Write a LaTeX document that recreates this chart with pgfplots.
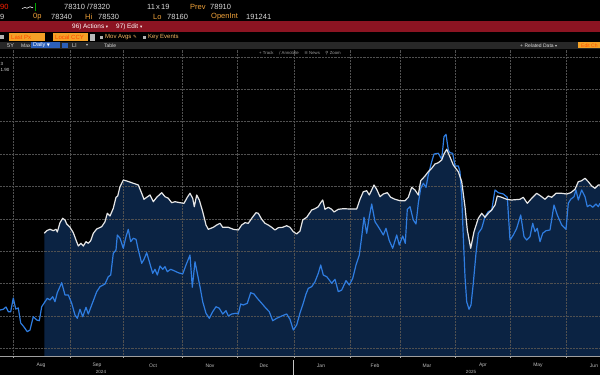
\documentclass[border=0pt]{standalone}
\usepackage{fontspec}
\setmainfont{Liberation Sans}
\newfontfamily\sym{DejaVu Sans}
\usepackage{pgfplots}
\usepackage{pgfplotstable}
\pgfplotsset{compat=1.18}
\definecolor{navy}{HTML}{0B2343}
\definecolor{bbblue}{HTML}{2F7DE1}
\definecolor{bbwhite}{HTML}{E6E6E6}
\definecolor{bbgrid}{HTML}{505050}
\definecolor{bbamber}{HTML}{F2A33A}
\definecolor{bbred}{HTML}{8C1422}
\definecolor{bbgray}{HTML}{272727}
\definecolor{bbtext}{HTML}{DADADA}
\definecolor{bborange}{HTML}{F4A127}
\definecolor{bbdaily}{HTML}{2C5FB8}
\definecolor{bblabel}{HTML}{BDBDBD}

\pgfplotstableread{
x y
44.3 141.7
46.7 144.3
50 145.7
53.3 144.3
56 145.7
57.3 143
60 152.3
62.7 156.7
65 155
66.7 151
70 147.7
73.3 142.3
76 135
78.3 129
81 131.7
83.3 129
86 133.3
88.3 131.7
90.7 134.3
93.3 141.7
96.7 146
101.7 148.3
105 153.3
107.3 161.7
110 159
113.3 166.7
116 177.7
117.7 179
120 188.3
123.3 195
126.7 194
131.7 192.3
138.3 190
141.7 181.7
144 175.7
146.7 177.7
150 180
153.3 173.3
156.7 177.7
161.7 182.3
165 178.3
168.3 176.7
171.7 172.3
175 173.3
180 172.3
184 171.7
187.3 177.7
190 181.7
192.7 176.7
194.3 168.3
196.7 180
199.3 175
202.7 163.3
206 150
208.3 145.7
213.3 147.7
216.7 150
220 151.7
222.7 147.7
228.3 147.7
233.3 145.7
238.3 145
241.7 150
245 152.3
248.3 151.7
251.7 156.7
256 162.3
258.3 161.7
261.7 155.7
265 151.7
268.3 150
271.7 147.7
275 145
278.3 147.3
282.7 147.7
286.7 149.3
290 147.7
293.3 143.3
296.7 141
300 144
302.7 155
306.7 157.7
311.7 165
315 166.3
318.3 168.3
320.7 172.3
322.7 175
325 165.7
328.3 167.7
331.7 165.7
334 163
338.3 165.7
343.3 166.3
350 166
356.7 166
360 175.7
363.3 183.3
366.7 184.3
369.3 180
371.7 185
374 190
376.7 185.7
380 178.3
383.3 181
387.3 182.3
390.7 177.7
395 175.7
400 174.3
405 174.3
408.3 177.7
411.7 187.7
415 185
418.3 180
420.7 194.3
425 199
428.3 203.3
431.7 206.7
435 211
438.3 212.3
441.7 215
444 221
446.7 225.7
450 218
453.3 210
458.3 203.3
461.7 193.3
465 168.3
467.3 145
470.7 126.7
474 143.3
478.3 156.7
481.7 161.7
485 157.7
488.3 161.7
491.7 165
495 170
497.3 179
501.7 177.7
506.7 175.7
511.7 175
520 175.7
523.3 177.7
527.3 171.7
531.7 176.7
536.7 181.7
540.7 179
545 175.7
548.3 179
551.7 177.7
556 181.7
561.7 181.7
566.7 181
570.7 182.3
575 185.7
578.3 193.3
581.7 194.3
585 196.7
588.3 193.3
591.7 189
595 186.7
598.3 190
600 190
}\whitedata

\pgfplotstableread{
x y
0 65
3.3 65.7
6 68
8.3 63.3
10.7 63.3
13.3 77
15.7 66
18.3 67
20.7 52
24 48
27.3 43.3
30 45
33.3 58.3
36.7 55
39.3 54.3
41.7 68.3
45 73.3
47.3 76.7
50 75
52.7 78.3
55 73.3
57.3 82.3
61.7 92.3
65 80
68.3 80
71.7 71.7
75 60
77.3 56.7
80 65.7
82.7 58.3
86 67.7
88.3 61
91.7 70
96.7 83.3
100 88.3
105 91
108.3 98.3
110.7 100
113.3 121.7
116 125
117.3 140
120 136.7
123.3 126.7
126 138.3
128.3 145.7
130.7 133.3
133.3 136.7
136 135.7
138.3 125
141.7 111.7
144 115.7
146.7 122.3
150 111
152.7 101.7
155 105.7
157.3 100
160 109
162.7 105.7
165 108.3
167.3 103.3
170.7 105.7
174 104.3
178.3 102.3
182.7 101
186 110
190 120
192.3 87.7
195 113.3
197.3 101.7
200 88.3
202.7 73.3
206 61.7
209.3 56.7
212.7 63.3
216 68.3
219.3 66.7
222.7 61
226 64.3
228.3 59
231.7 61
236 61.7
238.3 61
240.7 71
243.3 70
247.3 71.7
250.7 82.3
254 81
257.3 76.7
261.7 71.7
266 66.7
269.3 63.3
272.7 54.3
276.7 56.7
281.7 59
286.7 61
290 55.7
293.3 45
296.7 50
300 62
302.7 70
306 81
308.3 86.7
311.7 88.3
315 93.3
318.3 101.7
320.7 110
323.3 100
326.7 98.3
329.3 95
331.7 91.7
335 95.7
338.3 83.3
341.7 85
346 94.3
349.3 90
352.7 96.7
356 110
359.3 120
361.7 138.3
364 157.7
366.7 141.7
369.3 158.3
371.7 171
375 153.3
379.3 146.7
383.3 140
386 146.7
389.3 134.3
392.7 126.7
396.7 140
399.3 130
402.7 139
405.3 131.7
407.3 165.7
410 168.3
413.3 155
416 151
418.3 171.7
420.7 186.7
423.3 191.7
426 187.7
428.3 200
431.7 213.3
434 221
438.3 221.7
441.7 215.7
444 238.3
446 240.7
448.3 225
450 222.3
452.7 221.7
455 209
458.3 209
460 203.3
461.7 178.3
463.3 138.3
465 98.3
466.7 73.3
469 65.7
471 70
473.3 91.7
476 121.7
478.3 141.7
481.7 146.7
485 158.3
488.3 163.3
491.7 165
495 185
498.3 182.3
503.3 181
507.3 177.7
510 135
513.3 140
516.7 146.7
520.7 160
524 138.3
526.7 135
530 138.3
532.7 151.7
535 143.3
537.3 146.7
540 133.3
542.7 141.7
546 144.3
550 145
554 170
557.3 160
561.7 150
566 145.7
568.3 171.7
570.7 175.7
574 178.3
576 185
578.3 175
581.7 185
585 178.3
587.3 168.3
590 170
592.7 167.7
596 171
598.3 168.3
600 171.7
}\bluedata

\begin{document}
\begin{tikzpicture}[x=1pt,y=1pt]
\fill[black] (0,0) rectangle (600,375);
% ---- header ----
\fill[bbred] (0,343) rectangle (600,354);
\fill[bbgray] (0,326) rectangle (600,333);
\begin{scope}[every node/.style={inner sep=0pt, anchor=west, font=\fontsize{7.5}{8}\selectfont}]
% row 1
\node[text=red!75!orange] at (0,368) {90};
\draw[white, line width=0.6pt] (22,366.5) -- (25,367.5) -- (27,366.8) -- (30,368.2) -- (33,367.2);
\draw[green!65!black, line width=1pt] (35.5,364) -- (35.5,372);
\node[text=bbtext] at (64,368) {78310 /78320};
\node[text=bbtext] at (147,368) {11\,x\,19};
\node[text=bbamber] at (190,368) {Prev};
\node[text=bbtext] at (210,368) {78910};
% row 2
\node[text=bbtext] at (0,358) {9};
\node[text=bbamber] at (33,358) {0p};
\node[text=bbtext] at (51,358) {78340};
\node[text=bbamber] at (85,358) {Hi};
\node[text=bbtext] at (98,358) {78530};
\node[text=bbamber] at (153,358) {Lo};
\node[text=bbtext] at (167,358) {78160};
\node[text=bbamber] at (211,358) {OpenInt};
\node[text=bbtext] at (246,358) {191241};
% red bar
\node[text=white, font=\fontsize{6.4}{7}\selectfont] at (72,348.5) {96) Actions {\sym\fontsize{4.5}{5}\selectfont ▾}};
\node[text=white, font=\fontsize{6.4}{7}\selectfont] at (116,348.5) {97) Edit {\sym\fontsize{4.5}{5}\selectfont ▾}};
% row 4
\fill[gray!60] (0,335.5) rectangle (4,339.5);
\fill[bborange] (9,333.5) rectangle (45,341.5);
\node[text=orange!55!red, font=\fontsize{6}{7}\selectfont] at (11,337.5) {Last Px};
\fill[bborange] (53,333.5) rectangle (88,341.5);
\node[text=orange!55!red, font=\fontsize{6}{7}\selectfont] at (55,337.5) {Local CCY};
\fill[gray!55] (90,334) rectangle (95,341);
\fill[gray!60] (100,335.5) rectangle (103,338.5);
\node[text=bbamber!80!white, font=\fontsize{6}{7}\selectfont] at (105,337.5) {Mov Avgs {\sym\fontsize{4.5}{5}\selectfont ✎}};
\fill[gray!60] (143,335.5) rectangle (146,338.5);
\node[text=bbamber!80!white, font=\fontsize{6}{7}\selectfont] at (148,337.5) {Key Events};
% row 5
\node[text=bbtext, font=\fontsize{5.5}{6}\selectfont] at (7,329.5) {5Y};
\node[text=bbtext, font=\fontsize{5}{6}\selectfont] at (21,329.5) {Max};
\fill[bbdaily] (31,326.5) rectangle (60,332.5);
\node[text=white, font=\fontsize{5.5}{6}\selectfont] at (33,329.5) {Daily {\sym\fontsize{4}{5}\selectfont ▼}};
\fill[bbdaily] (62,327) rectangle (68,332);
\node[text=bbtext, font=\fontsize{5.5}{6}\selectfont] at (72,329.5) {Ll};
\node[text=bbtext, font=\sym\fontsize{4}{5}\selectfont] at (86,329.5) {▾};
\node[text=bbtext, font=\fontsize{5}{6}\selectfont] at (104,329.5) {Table};
\node[text=bbtext, font=\fontsize{5}{6}\selectfont] at (520,329.5) {+ Related Data {\sym\fontsize{4}{5}\selectfont ▾}};
\fill[bborange] (578,326.5) rectangle (600,332.5);
\node[text=orange!60!red, font=\fontsize{5}{6}\selectfont] at (581,329.5) {Edit Ch};
\end{scope}
% ---- chart ----
\begin{axis}[
  at={(0,19)}, anchor=south west,
  scale only axis, width=600pt, height=306pt,
  xmin=0, xmax=600, ymin=19, ymax=325,
  axis line style={draw=none},
  tick style={draw=none},
  xtick=\empty, ytick=\empty,
  clip=true,
]
\addplot[draw=none, fill=navy] table[x=x,y=y] {\whitedata} \closedcycle;
\pgfplotsinvokeforeach{13.3,70,123.3,182.7,237.3,294,350,400.7,455,510.7,566.7}{
  \draw[bbgrid, densely dotted, line width=0.45pt] (axis cs:#1,19) -- (axis cs:#1,325);
}
\pgfplotsinvokeforeach{26.6,59,91.4,123.8,156.2,188.6,221,253.4,285.8,318.2}{
  \draw[bbgrid, densely dotted, line width=0.45pt] (axis cs:0,#1) -- (axis cs:600,#1);
}
\addplot[bbblue, line width=1.2pt, line join=round] table[x=x,y=y] {\bluedata};
\addplot[bbwhite, line width=1.2pt, line join=round] table[x=x,y=y] {\whitedata};
\end{axis}
% toolbar inside chart
\node[text=gray!75, font=\fontsize{4.3}{5}\selectfont, inner sep=0pt] at (300,322) {+ Track \quad {\sym/} Annotate \quad {\sym≡} News \quad {\sym⚲} Zoom};
% cut-off y labels
\node[text=bbtext, font=\fontsize{4.5}{5}\selectfont, inner sep=0pt, anchor=west] at (0.5,311) {3};
\node[text=bbtext, font=\fontsize{4.5}{5}\selectfont, inner sep=0pt, anchor=west] at (0.5,305) {1.90};
% x axis
\draw[gray!75, line width=0.8pt] (0,19) -- (600,19);
\foreach \t in {13.3,70,123.3,182.7,237.3,294,350,400.7,455,510.7,566.7}
  \draw[gray!70, line width=0.5pt] (\t,19) -- (\t,16.5);
\draw[gray!45, line width=0.5pt] (293,0) -- (293,15);
\begin{scope}[every node/.style={inner sep=0pt, text=bblabel, font=\fontsize{5}{6}\selectfont}]
\node at (41,9.5) {Aug};
\node at (97,9.5) {Sep};
\node at (153,9.5) {Oct};
\node at (210,9.5) {Nov};
\node at (264,9.5) {Dec};
\node at (321,9.5) {Jan};
\node at (375,9.5) {Feb};
\node at (427,9.5) {Mar};
\node at (483,9.5) {Apr};
\node at (538,9.5) {May};
\node at (594,9.5) {Jun};
\node[font=\fontsize{4.5}{5}\selectfont] at (101,3) {2024};
\node[font=\fontsize{4.5}{5}\selectfont] at (471,3) {2025};
\end{scope}
\pgfresetboundingbox
\path (0,0) rectangle (600,375);
\end{tikzpicture}
\end{document}
